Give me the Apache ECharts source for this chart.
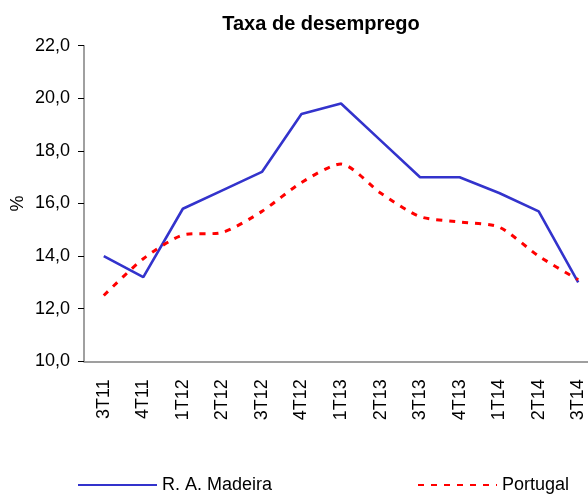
<!DOCTYPE html>
<html>
<head>
    <meta charset="UTF-8">
    <title>Taxa de desemprego</title>
    <script src="https://cdn.jsdelivr.net/npm/echarts@6/dist/echarts.min.js"></script>
    <style>
        html, body { margin: 0; padding: 0; background: #fff; }
        #chart { width: 588px; height: 495px; }
    </style>
</head>
<body>
    <div id="chart"></div>
    <script type="text/javascript">
        var quarters = ['3T11', '4T11', '1T12', '2T12', '3T12', '4T12', '1T13', '2T13', '3T13', '4T13', '1T14', '2T14', '3T14'];
        var madeira = [14.0, 13.2, 15.8, 16.5, 17.2, 19.4, 19.8, 18.4, 17.0, 17.0, 16.4, 15.7, 13.0];
        var portugal = [12.5, 13.9, 14.8, 14.9, 15.7, 16.8, 17.5, 16.4, 15.5, 15.3, 15.1, 14.0, 13.1];

        var font = 'Liberation Sans, Arial, sans-serif';
        var chart = echarts.init(document.getElementById('chart'));

        // legend: line icon only, no symbol
        var legendBase = {
            top: 476,
            padding: 0,
            itemWidth: 79,
            itemHeight: 14,
            itemGap: 0,
            itemStyle: { opacity: 0 },
            textStyle: { fontFamily: font, fontSize: 18, color: '#000' }
        };

        var option = {
            animation: false,
            title: {
                text: 'Taxa de desemprego',
                left: 316,
                top: 9,
                textAlign: 'center',
                textStyle: { fontFamily: font, fontSize: 20, fontWeight: 'bold', color: '#000' }
            },
            legend: [
                Object.assign({}, legendBase, { data: ['R. A. Madeira'], left: 77 }),
                Object.assign({}, legendBase, { data: ['Portugal'], left: 417 })
            ],
            grid: {
                left: 84,
                top: 45.7,
                width: 514,
                height: 315.6,
                containLabel: false,
                outerBoundsMode: 'none'
            },
            xAxis: {
                type: 'category',
                data: quarters,
                boundaryGap: true,
                axisLine: { lineStyle: { color: '#808080', width: 1.5 } },
                axisTick: { length: 6, lineStyle: { color: '#000' } },
                axisLabel: {
                    rotate: 90,
                    margin: 18,
                    interval: 0,
                    fontFamily: font,
                    fontSize: 18,
                    color: '#000'
                },
                splitLine: { show: false }
            },
            yAxis: {
                type: 'value',
                min: 10,
                max: 22,
                interval: 2,
                name: '%',
                nameLocation: 'middle',
                nameRotate: 90,
                nameGap: 57,
                nameMoveOverlap: false,
                nameTextStyle: { fontFamily: font, fontSize: 18, color: '#000' },
                axisLine: { show: true, lineStyle: { color: '#808080', width: 1.5 } },
                axisTick: { show: true, length: 6, lineStyle: { color: '#000' } },
                axisLabel: {
                    margin: 14,
                    fontFamily: font,
                    fontSize: 18,
                    color: '#000',
                    formatter: function (v) { return v.toFixed(1).replace('.', ','); }
                },
                splitLine: { show: false }
            },
            series: [
                {
                    name: 'R. A. Madeira',
                    type: 'line',
                    data: madeira,
                    symbol: 'none',
                    itemStyle: { color: '#3333CC' },
                    lineStyle: { color: '#3333CC', width: 2.6 }
                },
                {
                    name: 'Portugal',
                    type: 'line',
                    data: portugal,
                    symbol: 'none',
                    smooth: 0.25,
                    itemStyle: { color: '#FF0000' },
                    lineStyle: { color: '#FF0000', width: 3, type: [6, 7] }
                }
            ]
        };

        chart.setOption(option);
    </script>
</body>
</html>
